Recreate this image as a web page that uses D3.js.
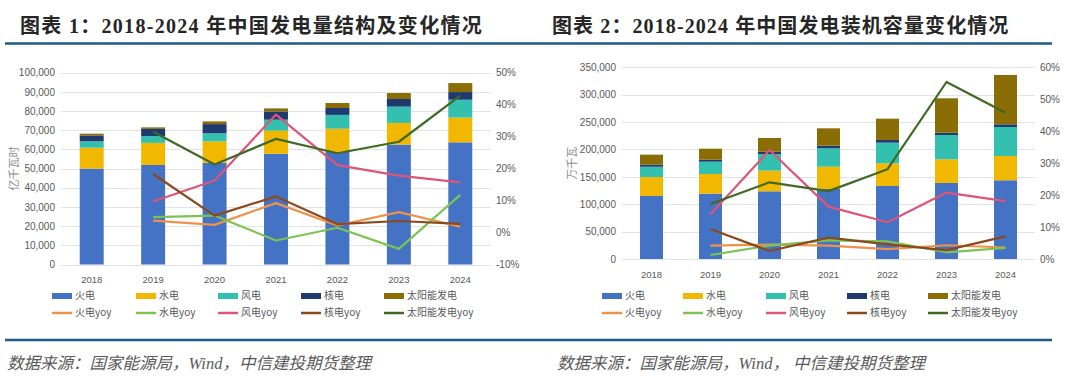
<!DOCTYPE html>
<html>
<head>
<meta charset="utf-8">
<script src="https://cdn.jsdelivr.net/npm/d3@7"></script>
<style>
  html, body { margin: 0; padding: 0; background: #fff; }
  svg { display: block; }
</style>
</head>
<body>
<svg id="chart" width="1080" height="382"></svg>
<script>
// ---------- Data ----------
const years = ["2018", "2019", "2020", "2021", "2022", "2023", "2024"];
const seriesNames = ["火电", "水电", "风电", "核电", "太阳能发电"];
const yoyNames = ["火电yoy", "水电yoy", "风电yoy", "核电yoy", "太阳能发电yoy"];

// Chart 1: generation (亿千瓦时)
const genThermal = [50000, 51900, 53000, 57700, 58700, 62500, 63700];
const genHydro   = [10900, 11500, 11200, 12100, 12100, 11300, 12900];
const genWind    = [3300, 3600, 4200, 5700, 7200, 8500, 9300];
const genNuclear = [3100, 3700, 4800, 4300, 3600, 4000, 4000];
const genSolar   = [900, 800, 1400, 1600, 2600, 3100, 4700];
// yoy (%), 2018 has no value
const genThermalYoy = [null, 3.75, 2.4, 9.2, 2.2, 6.4, 1.8];
const genHydroYoy   = [null, 4.8, 5.3, -2.5, 1.5, -5.1, 11.8];
const genWindYoy    = [null, 9.7, 16.3, 36.9, 21.1, 17.8, 15.7];
const genNuclearYoy = [null, 18.3, 5.3, 11.3, 2.6, 3.6, 2.7];
const genSolarYoy   = [null, 31.5, 21.3, 29.3, 24.8, 28.4, 42.8];

// Chart 2: installed capacity (万千瓦)
const capThermal = [115000, 119300, 123600, 127800, 133300, 138800, 143700];
const capHydro   = [34700, 35900, 37700, 40700, 41400, 43200, 44300];
const capWind    = [18800, 22500, 30400, 33600, 37700, 44400, 53000];
const capNuclear = [3700, 3600, 4200, 4800, 4900, 4200, 4900];
const capSolar   = [18300, 20100, 25100, 31700, 38900, 62800, 90100];
const capThermalYoy = [null, 4.2, 4.5, 4.2, 3.1, 4.3, 3.6];
const capHydroYoy   = [null, 1.25, 4.2, 5.8, 5.5, 2.1, 3.5];
const capWindYoy    = [null, 14.0, 34.1, 16.4, 11.5, 20.8, 18.1];
const capNuclearYoy = [null, 9.4, 2.5, 6.7, 4.6, 2.8, 7.1];
const capSolarYoy   = [null, 17.2, 24.0, 21.25, 28.1, 55.4, 45.8];

const leftTicks1 = [0, 10000, 20000, 30000, 40000, 50000, 60000, 70000, 80000, 90000, 100000];
const rightTicks1 = [-10, 0, 10, 20, 30, 40, 50];
const leftTicks2 = [0, 50000, 100000, 150000, 200000, 250000, 300000, 350000];
const rightTicks2 = [0, 10, 20, 30, 40, 50, 60];

const titles = ["图表 1：2018-2024 年中国发电量结构及变化情况", "图表 2：2018-2024 年中国发电装机容量变化情况"];
const yTitles = ["亿千瓦时", "万千瓦"];
const sources = ["数据来源：国家能源局，Wind，中信建投期货整理", "数据来源：国家能源局，Wind， 中信建投期货整理"];

// ---------- Styles ----------
const barColors = ["#4472C4", "#F2B800", "#33C0AE", "#1F3A70", "#8A6D05"];
const lineColors = ["#EE9249", "#7CC352", "#DE5577", "#8A4A1E", "#3F6A26"];
const ruleColor = "#1D5A87";
const tickColor = "#595959";
const sansFont = "'Liberation Sans', Arial, 'Noto Sans CJK SC', sans-serif";
const cjkFont = "'Noto Sans CJK SC', sans-serif";

const svg = d3.select("#chart");

function drawChart(cfg) {
  const g = svg.append("g");
  const x = d3.scaleBand().domain(years).range([cfg.x0, cfg.x1]).paddingInner(0.61).paddingOuter(0.305);
  const y = d3.scaleLinear().domain(cfg.yDomain).range([cfg.yBottom, cfg.yTop]);
  const y2 = d3.scaleLinear().domain(cfg.y2Domain).range([cfg.yBottom, cfg.yTop]);

  // Title
  g.append("text")
    .attr("x", cfg.titleX).attr("y", 33)
    .attr("font-family", "'Liberation Serif', 'Noto Sans CJK SC', serif")
    .attr("font-weight", "bold").attr("font-size", 20)
    .attr("letter-spacing", cfg.titleSpacing)
    .attr("fill", "#262626")
    .text(cfg.title);
  // Rules
  g.append("line").attr("x1", cfg.ruleX0).attr("x2", cfg.ruleX1).attr("y1", 43.5).attr("y2", 43.5)
    .attr("stroke", ruleColor).attr("stroke-width", 2.5);
  g.append("line").attr("x1", cfg.ruleX0).attr("x2", cfg.ruleX1).attr("y1", 340).attr("y2", 340)
    .attr("stroke", ruleColor).attr("stroke-width", 2.5);

  // Gridlines
  g.append("g").selectAll("line").data(cfg.leftTicks).join("line")
    .attr("x1", cfg.x0).attr("x2", cfg.x1)
    .attr("y1", d => Math.round(y(d)) + 0.5).attr("y2", d => Math.round(y(d)) + 0.5)
    .attr("stroke", "#E3E3E3").attr("stroke-width", 1);

  // Left axis
  const la = g.append("g").attr("transform", `translate(${cfg.x0 - 6},0)`)
    .call(d3.axisLeft(y).tickValues(cfg.leftTicks).tickFormat(d3.format(",")).tickSize(0).tickPadding(0));
  la.select(".domain").remove();
  la.selectAll("text").attr("font-family", sansFont).attr("font-size", 10).attr("fill", tickColor);

  // Right axis
  const ra = g.append("g").attr("transform", `translate(${cfg.x1 + 5},0)`)
    .call(d3.axisRight(y2).tickValues(cfg.rightTicks).tickFormat(d => d + "%").tickSize(0).tickPadding(0));
  ra.select(".domain").remove();
  ra.selectAll("text").attr("font-family", sansFont).attr("font-size", 10).attr("fill", tickColor);

  // Bottom axis
  const ba = g.append("g").attr("transform", `translate(0,${cfg.yBottom})`)
    .call(d3.axisBottom(x).tickSize(0).tickPadding(cfg.xPad));
  ba.select(".domain").remove();
  ba.selectAll("text").attr("font-family", sansFont).attr("font-size", 9.5).attr("fill", tickColor);

  // Y title
  g.append("text")
    .attr("transform", `translate(${cfg.yTitleX},${(cfg.yTop + cfg.yBottom) / 2}) rotate(-90)`)
    .attr("text-anchor", "middle").attr("dominant-baseline", "middle")
    .attr("font-family", cjkFont).attr("font-size", 11).attr("fill", "#8C8C8C")
    .text(cfg.yTitle);

  // Stacked bars
  const rows = years.map((yr, i) => {
    const o = { year: yr };
    seriesNames.forEach((s, k) => o[s] = cfg.bars[k][i]);
    return o;
  });
  const stacked = d3.stack().keys(seriesNames)(rows);
  g.append("g").selectAll("g").data(stacked).join("g")
    .attr("fill", (d, k) => barColors[k])
    .selectAll("rect").data(d => d).join("rect")
    .attr("x", d => x(d.data.year))
    .attr("width", x.bandwidth())
    .attr("y", d => y(d[1]))
    .attr("height", d => y(d[0]) - y(d[1]));

  // Lines
  const line = d3.line()
    .defined(d => d.v !== null)
    .x(d => x(d.year) + x.bandwidth() / 2)
    .y(d => y2(d.v));
  cfg.lines.forEach((arr, k) => {
    const pts = years.map((yr, i) => ({ year: yr, v: arr[i] }));
    g.append("path").datum(pts)
      .attr("fill", "none").attr("stroke", lineColors[k]).attr("stroke-width", 2.2)
      .attr("stroke-linejoin", "round")
      .attr("d", line);
  });

  // Legend
  const lg = g.append("g");
  seriesNames.forEach((s, k) => {
    const lx = cfg.legendX[k];
    lg.append("rect").attr("x", lx).attr("y", 293).attr("width", 20).attr("height", 6).attr("fill", barColors[k]);
    lg.append("text").attr("x", lx + 23).attr("y", 296).attr("dominant-baseline", "middle")
      .attr("font-family", cjkFont).attr("font-size", 10).attr("fill", tickColor).text(s);
    lg.append("line").attr("x1", lx).attr("x2", lx + 20).attr("y1", 313).attr("y2", 313)
      .attr("stroke", lineColors[k]).attr("stroke-width", 2.5);
    lg.append("text").attr("x", lx + 23).attr("y", 313).attr("dominant-baseline", "middle")
      .attr("font-family", cjkFont).attr("font-size", 10).attr("fill", tickColor).text(yoyNames[k]);
  });

  // Source
  g.append("text")
    .attr("x", cfg.sourceX).attr("y", 369)
    .attr("font-family", "'Liberation Serif', 'Noto Sans CJK SC', serif")
    .attr("font-style", "italic").attr("font-size", 16.5).attr("fill", "#5A5A5A")
    .text(cfg.source);
}

drawChart({
  title: titles[0], titleX: 20, titleSpacing: 1.3, ruleX0: 5, ruleX1: 540,
  x0: 61, x1: 491, yTop: 72.7, yBottom: 264.5,
  yDomain: [0, 100000], y2Domain: [-10, 50],
  leftTicks: leftTicks1, rightTicks: rightTicks1, xPad: 12,
  yTitle: yTitles[0], yTitleX: 15,
  bars: [genThermal, genHydro, genWind, genNuclear, genSolar],
  lines: [genThermalYoy, genHydroYoy, genWindYoy, genNuclearYoy, genSolarYoy],
  legendX: [52, 136, 218, 301, 384],
  source: sources[0], sourceX: 7
});

drawChart({
  title: titles[1], titleX: 552, titleSpacing: 1.1, ruleX0: 540, ruleX1: 1052,
  x0: 622, x1: 1035, yTop: 67.3, yBottom: 259,
  yDomain: [0, 350000], y2Domain: [0, 60],
  leftTicks: leftTicks2, rightTicks: rightTicks2, xPad: 12,
  yTitle: yTitles[1], yTitleX: 573,
  bars: [capThermal, capHydro, capWind, capNuclear, capSolar],
  lines: [capThermalYoy, capHydroYoy, capWindYoy, capNuclearYoy, capSolarYoy],
  legendX: [602, 683, 766, 847, 928],
  source: sources[1], sourceX: 557
});
</script>
</body>
</html>
